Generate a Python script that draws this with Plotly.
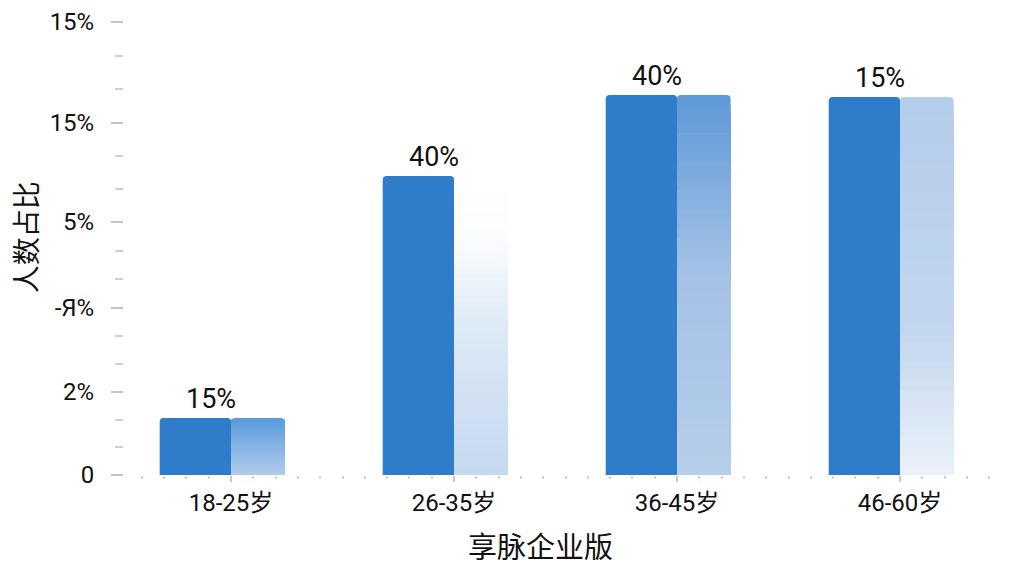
import plotly.graph_objects as go

# 数据
categories = ['18-25岁', '26-35岁', '36-45岁', '46-60岁']
values = [1.89, 9.90, 12.58, 12.52]
bar_labels = ['15%', '40%', '40%', '15%']
y_tickvals = [0, 2.75, 5.53, 8.38, 11.66, 15]
y_ticktext = ['0', '2%', '-Я%', '5%', '15%', '15%']

# 右半边渐变 (从顶到底)
grad_stops = [
    [(0, '#5a9bdc'), (1, '#b2cceb')],
    [(0, '#ffffff'), (0.2, '#fbfcfe'), (0.5, '#dde9f6'), (1, '#c3d8ef')],
    [(0, '#5f9ad8'), (0.45, '#a3c1e5'), (1, '#b6cfea')],
    [(0, '#b3cdeb'), (0.6, '#c2d6ee'), (1, '#edf3fa')],
]
left_color = '#2f7cca'
N = 40


def hex2rgb(h):
    h = h.lstrip('#')
    return [int(h[i:i + 2], 16) for i in (0, 2, 4)]


def color_at(stops, t):
    for (t0, c0), (t1, c1) in zip(stops[:-1], stops[1:]):
        if t0 <= t <= t1:
            f = 0 if t1 == t0 else (t - t0) / (t1 - t0)
            a, b = hex2rgb(c0), hex2rgb(c1)
            return 'rgb(%d,%d,%d)' % tuple(round(a[i] + (b[i] - a[i]) * f) for i in range(3))
    return stops[-1][1]


xs = list(range(len(categories)))
fig = go.Figure()

fig.add_trace(go.Bar(x=xs, y=values, offset=-0.32, width=0.32,
                     marker=dict(color=left_color, line=dict(width=0), cornerradius=4),
                     hoverinfo='skip'))

for k in range(N):
    h = 1 - k / N
    fig.add_trace(go.Bar(
        x=xs, y=[v * h for v in values], offset=0, width=0.24,
        marker=dict(color=[color_at(s, k / N) for s in grad_stops], line=dict(width=0),
                    cornerradius=4 if k == 0 else 0),
        hoverinfo='skip'))

for i, (v, t) in enumerate(zip(values, bar_labels)):
    fig.add_annotation(x=i - 0.09, y=v, text=t, showarrow=False, yanchor='bottom', yshift=1,
                       font=dict(size=27, color='#111'))

fig.add_annotation(xref='paper', yref='paper', x=-0.1097, y=0.525, text='人数占比', textangle=-90,
                   xanchor='center', yanchor='middle',
                   showarrow=False, font=dict(size=28, color='#111'))
fig.add_annotation(xref='paper', yref='paper', x=0.4717, y=-0.161, text='享脉企业版',
                   xanchor='center', yanchor='middle',
                   showarrow=False, font=dict(size=29, color='#111'))

minor_y = []
for a, b in zip(y_tickvals[:-1], y_tickvals[1:]):
    minor_y += [a + (b - a) / 3, a + 2 * (b - a) / 3]

x_range = [-0.48, 3.484]

fig.update_layout(
    width=1008, height=560,
    margin=dict(l=116, r=8, t=14, b=93),
    paper_bgcolor='white', plot_bgcolor='white',
    barmode='overlay', showlegend=False,
    font=dict(family='Roboto, Noto Sans CJK SC, sans-serif', color='#111'),
    xaxis=dict(range=x_range, tickmode='array', tickvals=xs, ticktext=categories,
               showgrid=False, zeroline=False, showline=False, automargin=False,
               ticks='outside', ticklen=6, tickwidth=1.5, tickcolor='#c8c8c8',
               tickfont=dict(size=24, color='#111'), ticklabelstandoff=0,
               minor=dict(ticks='outside', dtick=0.1, tick0=0, ticklen=3, tickcolor='#d4d4d4')),
    xaxis2=dict(range=x_range, overlaying='x', side='top', anchor='y', automargin=False,
                showgrid=False, zeroline=False, showline=False, showticklabels=False,
                ticks='outside', dtick=0.5, tick0=0, ticklen=7, tickwidth=1.5, tickcolor='#c8c8c8',
                minor=dict(ticks='outside', dtick=0.1, tick0=0, ticklen=3, tickcolor='#d4d4d4')),
    yaxis=dict(range=[0, 15], tickmode='array', tickvals=y_tickvals, ticktext=y_ticktext,
               showgrid=False, zeroline=False, showline=False, automargin=False,
               ticks='outside', ticklen=12, tickwidth=2, tickcolor='#c4c4c4',
               tickfont=dict(size=24, color='#111'), ticklabelstandoff=12,
               minor=dict(ticks='outside', tickmode='array', tickvals=minor_y, ticklen=8,
                          tickwidth=2, tickcolor='#d0d0d0')),
)

fig.write_html('out.html')
